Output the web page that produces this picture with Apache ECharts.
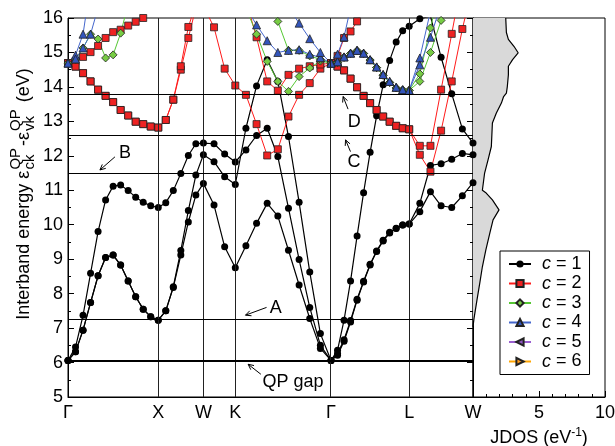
<!DOCTYPE html>
<html>
<head>
<meta charset="utf-8">
<script src="https://cdn.jsdelivr.net/npm/echarts@6/dist/echarts.min.js"></script>
<style>
html, body { margin: 0; padding: 0; background: #fff; }
#chart { width: 615px; height: 446px; }
</style>
</head>
<body>
<div id="chart"></div>
<script>
// high-symmetry points along the FCC path (units of 2pi/a)
const symK = [0, 1, 1.5, 1.8536, 2.9142, 3.7802, 4.4873];
const symLabels = ["Γ", "X", "W", "K", "Γ", "L", "W"];

// k sampling used for every band
const kGrid = [
    0, 0.0833, 0.1667, 0.25, 0.3333, 0.4167, 0.5, 0.5833, 0.6667, 0.75, 0.8333, 0.9167, 1.0,
    1.0833, 1.1667, 1.25, 1.3333, 1.4167, 1.5,
    1.6179, 1.7357, 1.8536,
    1.9714, 2.0893, 2.2071, 2.325, 2.4428, 2.5607, 2.6785, 2.7964, 2.9142,
    2.9864, 3.0586, 3.1307, 3.2029, 3.2751, 3.3473, 3.4194, 3.4916, 3.5638, 3.636, 3.7081, 3.7802,
    3.8981, 4.0159, 4.1338, 4.2516, 4.3695, 4.4873,
];

// c = 1 (three valence bands)
const c1a = [6.06, 6.31, 6.94, 7.74, 8.52, 9.05, 9.12, 8.83, 8.37, 7.91, 7.55, 7.33, 7.23,
    7.5, 8.18, 9.12, 10.08, 10.86, 11.2,
    10.57, 9.36, 8.75,
    9.39, 10.04, 10.62, 10.25, 9.26, 8.25, 7.28, 6.41, 6.06,
    6.21, 6.62, 7.18, 7.81, 8.34, 8.83, 9.22, 9.53, 9.76, 9.89, 9.99, 10.02,
    10.38, 10.96, 10.55, 10.5, 10.84, 11.22];
const c1b = [6.06, 6.31, 6.94, 7.74, 8.52, 9.05, 9.12, 8.83, 8.37, 7.91, 7.55, 7.33, 7.23,
    7.5, 8.2, 9.25, 10.41, 11.44, 12.03,
    11.83, 11.39, 11.17,
    12.8, 14.03, 14.79, 14.16, 12.56, 10.65, 8.63, 6.84, 6.06,
    6.26, 6.66, 7.22, 7.84, 8.36, 8.85, 9.24, 9.55, 9.78, 9.9, 9.99, 10.02,
    10.62, 11.72, 11.77, 11.9, 12.07, 12.03];
const c1c = [6.06, 6.45, 7.37, 8.59, 9.8, 10.72, 11.12, 11.15, 10.99, 10.8, 10.65, 10.55, 10.5,
    10.64, 10.99, 11.49, 12.01, 12.35, 12.37,
    12.35, 12.05, 11.82,
    12.17, 12.59, 12.8, 11.98, 10.48, 8.99, 7.6, 6.5, 6.06,
    6.36, 7.23, 8.37, 9.67, 10.93, 12.1, 13.16, 14.06, 14.77, 15.3, 15.63, 15.76,
    15.98, 16.05, 14.86, 13.8, 12.78, 12.37];

// c = 2
const c2a = [14.69, 14.75, 14.87, 15.01, 15.19, 15.42, 15.59, 15.66, 15.78, 15.89, 16.0, 16.15, 16.3,
    null, null, null, null, null, null,
    null, null, null,
    null, null, null, null, null, null, null, null, null,
    null, null, null, null, null, null, null, null, null, null, null, null,
    null, null, null, null, null, null];
const c2b = [14.69, 14.59, 14.4, 14.16, 13.92, 13.74, 13.56, 13.33, 13.17, 12.99, 12.92, 12.85, 12.82,
    13.04, 13.63, 14.5, 15.42, 16.3, 16.35,
    15.73, 14.53, 14.04,
    13.77, 12.92, 12.01, 12.19, 13.14, 13.77, 14.11, 14.53, 14.69,
    14.59, 14.48, 14.24, 13.99, 13.74, 13.53, 13.33, 13.14, 12.99, 12.87, 12.8, 12.77,
    12.03, 11.54, 12.73, 14.16, 15.68, 17.0];
const c2c = [14.69, 14.59, 14.4, 14.16, 13.92, 13.74, 13.56, 13.33, 13.17, 12.99, 12.92, 12.85, 12.82,
    13.04, 13.63, 14.6, 15.74, 16.4, 17.0,
    17.0, 17.0, 17.0,
    16.5, 15.44, 14.16, 13.89, 14.35, 14.53, 14.6, 14.65, 14.69,
    14.59, 14.48, 14.24, 13.99, 13.74, 13.53, 13.33, 13.14, 12.99, 12.87, 12.8, 12.77,
    12.29, 12.29, 13.92, 15.54, 17.2, null];
const c2d = [null, null, null, null, null, null, null, null, null, null, null, null, null,
    null, null, null, null, null, null,
    null, null, null,
    null, null, null, null, null, null, null, null, 14.69,
    14.9, 15.42, 15.61, 15.9, 16.3, null, null, null, null, null, null, null,
    null, null, null, null, null, null];

// c = 3
const c3a = [14.69, 14.8, 15.13, 15.53, 15.39, 14.84, 14.93, 15.56, 16.4, null, null, null, null,
    null, null, null, null, null, null,
    null, null, null,
    null, null, null, null, null, null, null, null, null,
    null, null, null, null, null, null, null, null, null, null, null, null,
    null, null, null, null, null, null];
const c3b = [null, null, null, null, null, null, null, null, null, null, null, null, null,
    null, null, null, null, null, null,
    null, null, null,
    16.3, 15.53, 14.74, 14.16, 13.87, 14.3, 14.55, 14.75, 14.69,
    14.71, 14.86, 14.97, 15.05, 14.97, 14.78, 14.56, 14.34, 14.13, 13.97, 13.91, 13.9,
    14.38, 15.71, 17.0, null, null, null];
const c3c = [null, null, null, null, null, null, null, null, null, null, null, null, null,
    null, null, null, null, null, null,
    null, null, null,
    null, null, 16.5, 15.9, 15.06, 15.06, 14.9, 14.8, 14.69,
    14.71, 14.86, 14.97, 15.05, 14.97, 14.78, 14.56, 14.34, 14.13, 13.97, 13.91, 13.9,
    14.16, 15.0, 15.93, 16.9, null, null];

// c = 4
const c4a = [14.69, 14.92, 15.53, 17.0, null, null, null, null, null, null, null, null, null,
    null, null, null, null, null, null,
    null, null, null,
    null, null, null, null, null, null, null, null, null,
    null, null, null, null, null, null, null, null, null, null, null, null,
    null, null, null, null, null, null];
const c4b = [14.69, 14.81, 15.13, 15.53, 16.3, null, null, null, null, null, null, null, null,
    null, null, null, null, null, null,
    null, null, null,
    null, null, null, null, null, null, null, null, null,
    null, null, null, null, null, null, null, null, null, null, null, null,
    null, null, null, null, null, null];
const c4c = [null, null, null, null, null, null, null, null, null, null, null, null, null,
    null, null, null, null, null, null,
    null, null, null,
    16.3, 15.8, 15.34, 15.0, 15.06, 15.08, 14.95, 14.85, 14.69,
    14.73, 14.87, 14.98, 15.06, 14.98, 14.79, 14.58, 14.36, 14.16, 13.99, 13.92, 13.9,
    14.84, 16.2, null, null, null, null];
const c4d = [null, null, null, null, null, null, null, null, null, null, null, null, null,
    null, null, null, null, null, null,
    null, null, null,
    null, null, null, null, 16.3, 15.85, 15.4, 15.0, 14.69,
    14.73, 14.87, 14.98, 15.06, 14.98, 14.79, 14.58, 14.36, 14.16, 13.99, 13.92, 13.9,
    14.64, 15.44, 16.4, null, null, null];
const c4e = [null, null, null, null, null, null, null, null, null, null, null, null, null,
    null, null, null, null, null, null,
    null, null, null,
    null, null, null, null, null, null, null, null, 14.69,
    14.95, 15.45, 16.3, null, null, null, null, null, null, null, null, null,
    null, null, null, null, null, null];

// reference levels (eV)
const levelNames = ["QP gap", "A", "B", "C", "D"];
const levelE = [6.04, 7.25, 11.5, 12.6, 13.8];

// joint density of states
const jdosE = [7.04, 7.29, 7.81, 8.3, 8.78, 9.26, 9.75, 10.14, 10.43, 10.72, 10.92, 11.0, 11.5,
    11.88, 12.27, 12.95, 13.24, 13.53, 13.72, 13.82, 14.01, 14.35, 14.6, 14.79, 14.99, 15.18,
    15.38, 15.58, 16.0];
const jdosV = [0, 0.08, 0.3, 0.51, 0.71, 0.97, 1.27, 1.52, 1.97, 1.47, 1.0, 0.71, 0.88,
    1.14, 1.39, 1.47, 1.77, 2.15, 2.32, 2.53, 2.6, 2.68, 2.68, 3.0, 3.42, 3.1,
    2.68, 2.53, 2.48];

const FONT = '"Liberation Sans", Arial, Helvetica, sans-serif';

const styles = {
    c1: { symbol: "circle", size: 7, fill: "#000", line: "#000", lw: 1.2, bw: 0 },
    c2: { symbol: "rect", size: 7, fill: "#ee2222", line: "#ff1a1a", lw: 1, bw: 0.8 },
    c3: { symbol: "diamond", size: 8, fill: "#77cc44", line: "#55c733", lw: 1, bw: 0.8 },
    c4: { symbol: "triangle", size: 8, fill: "#3355bb", line: "#4466cc", lw: 1, bw: 0.8 },
    c5: { symbol: "triangle", size: 8, fill: "#8e55c0", line: "#9a5fd0", lw: 1, bw: 0.8, rotate: 90 },
    c6: { symbol: "triangle", size: 8, fill: "#ff9a1a", line: "#ffa500", lw: 1, bw: 0.8, rotate: -90 },
};

function bandSeries(name, vals) {
    const s = styles[name];
    return {
        name: name,
        type: "line",
        xAxisIndex: 0,
        yAxisIndex: 0,
        data: vals.map((v, i) => [kGrid[i], v]),
        symbol: s.symbol,
        symbolSize: s.size,
        symbolRotate: s.rotate || 0,
        itemStyle: { color: s.fill, borderColor: "#222", borderWidth: s.bw },
        lineStyle: { color: s.line, width: s.lw },
        clip: true,
        z: 3,
        silent: true,
    };
}

const bands = [
    ["c1", c1a], ["c1", c1b], ["c1", c1c],
    ["c2", c2a], ["c2", c2b], ["c2", c2c], ["c2", c2d],
    ["c3", c3a], ["c3", c3b], ["c3", c3c],
    ["c4", c4a], ["c4", c4b], ["c4", c4c], ["c4", c4d], ["c4", c4e],
    ["c5", []], ["c6", []],
];

const chart = echarts.init(document.getElementById("chart"));

const series = [
    {
        // guide lines
        type: "line",
        xAxisIndex: 0,
        yAxisIndex: 0,
        data: [],
        z: 1,
        markLine: {
            silent: true,
            symbol: "none",
            animation: false,
            label: { show: false },
            data: symK.slice(1, -1).map((k) => ({ xAxis: k, lineStyle: { color: "#222", width: 1, type: "solid" } }))
                .concat(levelE.map((e, i) => ({
                    yAxis: e,
                    lineStyle: { color: "#000", width: i === 0 ? 2 : 1, type: "solid" },
                }))),
        },
    },
    {
        // JDOS filled area
        type: "custom",
        xAxisIndex: 1,
        yAxisIndex: 1,
        clip: true,
        silent: true,
        z: 1,
        data: [[0, 0]],
        renderItem: (params, api) => {
            const pts = [api.coord([0, jdosE[0]])];
            jdosE.forEach((e, i) => pts.push(api.coord([jdosV[i], e])));
            pts.push(api.coord([0, jdosE[jdosE.length - 1]]));
            return { type: "polygon", shape: { points: pts }, style: { fill: "#d9d9d9" } };
        },
    },
    {
        type: "line",
        xAxisIndex: 1,
        yAxisIndex: 1,
        data: jdosV.map((v, i) => [v, jdosE[i]]),
        symbol: "none",
        lineStyle: { color: "#000", width: 1.2 },
        clip: true,
        silent: true,
        z: 2,
    },
].concat(bands.map((b) => bandSeries(b[0], b[1])));

const options = {
    animation: false,
    backgroundColor: "#fff",
    textStyle: { fontFamily: FONT },
    grid: [
        { left: 68, top: 18, width: 405, height: 379, show: true, borderColor: "#000", borderWidth: 1, outerBoundsMode: "none" },
        { left: 473, top: 18, width: 132, height: 379, show: true, borderColor: "#000", borderWidth: 1, outerBoundsMode: "none" },
    ],
    xAxis: [
        {
            type: "value",
            gridIndex: 0,
            min: 0,
            max: symK[symK.length - 1],
            axisLine: { lineStyle: { color: "#000", width: 1 } },
            axisTick: { show: false },
            splitLine: { show: false },
            axisLabel: {
                customValues: symK,
                margin: 7,
                color: "#000",
                fontSize: 18,
                fontFamily: FONT,
                formatter: (v) => {
                    let best = 0;
                    symK.forEach((k, i) => { if (Math.abs(k - v) < Math.abs(symK[best] - v)) best = i; });
                    return symLabels[best];
                },
            },
        },
        {
            type: "value",
            gridIndex: 1,
            min: 0,
            max: 10,
            interval: 5,
            axisLine: { lineStyle: { color: "#000", width: 1 } },
            axisTick: { inside: true, length: 6, lineStyle: { color: "#000" } },
            minorTick: { show: true, splitNumber: 5, length: 3, lineStyle: { color: "#000" } },
            splitLine: { show: false },
            axisLabel: {
                margin: 7,
                color: "#000",
                fontSize: 18,
                fontFamily: FONT,
                formatter: (v) => (v === 0 ? "" : String(v)),
            },
            name: "{n|JDOS (eV}{s|-1}{n|)}",
            nameLocation: "middle",
            nameGap: 30,
            nameTextStyle: {
                rich: {
                    n: { fontSize: 18, fontFamily: FONT, color: "#000", lineHeight: 22 },
                    s: { fontSize: 12, fontFamily: FONT, color: "#000", verticalAlign: "top", lineHeight: 12 },
                },
            },
        },
    ],
    yAxis: [
        {
            type: "value",
            gridIndex: 0,
            min: 5,
            max: 16,
            interval: 1,
            axisLine: { lineStyle: { color: "#000", width: 1 } },
            axisTick: { inside: true, length: 6, lineStyle: { color: "#000" } },
            minorTick: { show: true, splitNumber: 2, length: 3, lineStyle: { color: "#000" } },
            splitLine: { show: false },
            axisLabel: { margin: 5, color: "#000", fontSize: 18, fontFamily: FONT },
        },
        {
            type: "value",
            gridIndex: 1,
            position: "right",
            min: 5,
            max: 16,
            interval: 1,
            axisLine: { lineStyle: { color: "#000", width: 1 } },
            axisTick: { inside: true, length: 6, lineStyle: { color: "#000" } },
            minorTick: { show: true, splitNumber: 2, length: 3, lineStyle: { color: "#000" } },
            splitLine: { show: false },
            axisLabel: { show: false },
        },
    ],
    legend: {
        data: ["c1", "c2", "c3", "c4", "c5", "c6"],
        orient: "vertical",
        left: 500,
        top: 251,
        padding: [4, 8, 4, 8],
        itemGap: 1.5,
        itemWidth: 22,
        itemHeight: 9,
        backgroundColor: "#fff",
        borderColor: "#000",
        borderWidth: 1,
        borderRadius: 0,
        z: 10,
        formatter: (name) => "{i|c} = " + name.slice(1),
        textStyle: {
            fontSize: 18,
            fontFamily: FONT,
            color: "#000",
            padding: [0, 0, 0, 6],
            rich: { i: { fontStyle: "italic", fontSize: 18, fontFamily: FONT, color: "#000" } },
        },
    },
    series: series,
};

chart.setOption(options);

// annotations: arrows and labels placed in data coordinates
const notes = [
    { text: "B", at: [0.631, 12.08], from: [0.52, 11.97], to: [0.354, 11.59] },
    { text: "A", at: [2.303, 7.58], from: [2.2, 7.6], to: [1.967, 7.375] },
    { text: "QP gap", at: [2.494, 5.43], from: [2.137, 5.66], to: [1.996, 5.95] },
    { text: "D", at: [3.172, 12.97], from: [3.103, 13.355], to: [3.048, 13.72] },
    { text: "C", at: [3.17, 11.81], from: [3.13, 12.122], to: [3.075, 12.462] },
];

const graphic = [];
notes.forEach((n) => {
    const p = chart.convertToPixel({ gridIndex: 0 }, n.at);
    const a = chart.convertToPixel({ gridIndex: 0 }, n.from);
    const b = chart.convertToPixel({ gridIndex: 0 }, n.to);
    graphic.push({
        type: "text", x: p[0], y: p[1], z: 20,
        style: { text: n.text, fill: "#000", font: "18px " + FONT, align: "center", verticalAlign: "middle" },
    });
    graphic.push({
        type: "line", z: 20,
        shape: { x1: a[0], y1: a[1], x2: b[0], y2: b[1] },
        style: { stroke: "#000", lineWidth: 1 },
    });
    const ang = Math.atan2(a[1] - b[1], a[0] - b[0]);
    const L = 6, w = 0.45;
    graphic.push({
        type: "polyline", z: 20,
        shape: { points: [
            [b[0] + L * Math.cos(ang + w), b[1] + L * Math.sin(ang + w)],
            [b[0], b[1]],
            [b[0] + L * Math.cos(ang - w), b[1] + L * Math.sin(ang - w)],
        ] },
        style: { stroke: "#000", lineWidth: 1, fill: null },
    });
});

// rotated y-axis title with stacked super/subscripts
const ctx = document.createElement("canvas").getContext("2d");
function tw(t, size) {
    ctx.font = size + "px " + FONT;
    return ctx.measureText(t).width;
}
const MAIN = 18, SCR = 15;
const parts = [
    { t: "Interband energy ε" },
    { sup: "QP", sub: "ck" },
    { t: "-ε" },
    { sup: "QP", sub: "vk" },
    { t: " (eV)" },
];
const kids = [];
let cx = 0;
parts.forEach((p) => {
    if (p.t) {
        kids.push({ type: "text", x: cx, y: 0, style: { text: p.t, fill: "#000", font: MAIN + "px " + FONT, verticalAlign: "middle" } });
        cx += tw(p.t, MAIN);
    } else {
        kids.push({ type: "text", x: cx + 1, y: -8, style: { text: p.sup, fill: "#000", font: SCR + "px " + FONT, verticalAlign: "middle" } });
        kids.push({ type: "text", x: cx + 1, y: 6, style: { text: p.sub, fill: "#000", font: SCR + "px " + FONT, verticalAlign: "middle" } });
        cx += Math.max(tw(p.sup, SCR), tw(p.sub, SCR)) + 3;
    }
});
graphic.push({
    type: "group",
    x: 24,
    y: 194 + cx / 2,
    rotation: Math.PI / 2,
    children: kids,
});

chart.setOption({ graphic: graphic });
</script>
</body>
</html>
